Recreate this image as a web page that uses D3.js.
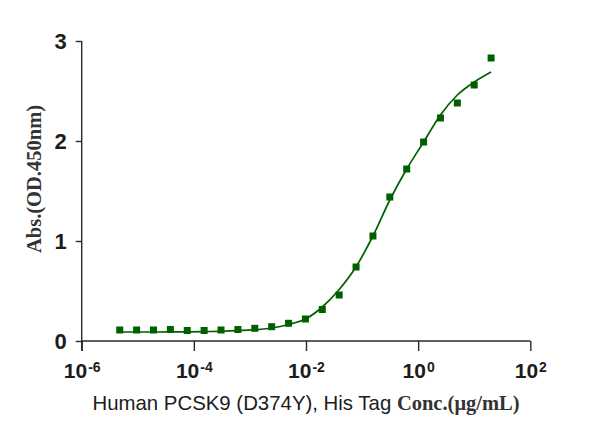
<!DOCTYPE html>
<html>
<head>
<meta charset="utf-8">
<script src="https://cdn.jsdelivr.net/npm/d3@7"></script>
<style>
  body { margin: 0; background: #fff; }
</style>
</head>
<body>
<div id="chart"></div>
<script>
// concentration (ug/mL), 2-fold dilution series
var conc = [20, 10, 5, 2.5, 1.25, 0.625, 0.3125, 0.15625, 0.078125, 0.0390625,
  0.01953125, 0.009765625, 0.0048828125, 0.00244140625, 0.001220703125,
  0.0006103515625, 0.00030517578125, 0.000152587890625, 0.0000762939453125,
  0.00003814697265625, 0.000019073486328125, 0.0000095367431640625, 0.00000476837158203125]

// measured absorbance at each concentration
var absorbance = [2.83, 2.56, 2.38, 2.23, 1.99, 1.72, 1.44, 1.05, 0.74, 0.46,
  0.315, 0.22, 0.177, 0.143, 0.127, 0.115, 0.11, 0.105, 0.105, 0.115,
  0.11, 0.11, 0.11]

// fitted curve, read at the same concentrations
var fitted = [2.69, 2.59, 2.46, 2.26, 1.99, 1.72, 1.41, 1.05, 0.743, 0.515,
  0.34, 0.22, 0.165, 0.13, 0.113, 0.103, 0.097, 0.094, 0.092, 0.091,
  0.09, 0.09, 0.09]

var xTicks = [1e-6, 1e-4, 1e-2, 1e0, 1e2]
var xTickExp = ["-6", "-4", "-2", "0", "2"]
var yTicks = [0, 1, 2, 3]

var width = 602,
  height = 435

var green = "#006000",
  axisColor = "#2a2a2a"

var svg = d3.select("#chart")
  .append("svg")
  .attr("width", width)
  .attr("height", height)

var x = d3.scaleLog().domain([1e-6, 1e2]).range([81.7, 530.3])
var y = d3.scaleLinear().domain([0, 3]).range([341, 41])

// y axis
var yAxis = svg.append("g")
  .attr("transform", "translate(" + x(1e-6) + ",0)")
  .call(d3.axisLeft(y).tickValues(yTicks).tickFormat(d3.format("d"))
    .tickSize(6).tickSizeOuter(0).tickPadding(9))

yAxis.select(".domain").remove()
yAxis.selectAll(".tick line").attr("stroke", axisColor).attr("stroke-width", 1.4)
yAxis.selectAll(".tick text")
  .attr("font-family", "'Liberation Sans', Arial, sans-serif")
  .attr("font-weight", "bold")
  .attr("font-size", 22)
  .attr("fill", "#1c1c1c")

svg.append("line")
  .attr("x1", x(1e-6)).attr("x2", x(1e-6))
  .attr("y1", y(3)).attr("y2", y(0) + 10)
  .attr("stroke", axisColor)
  .attr("stroke-width", 1.4)

// x axis
var xAxis = svg.append("g")
  .attr("transform", "translate(0," + y(0) + ")")
  .call(d3.axisBottom(x).tickValues(xTicks).tickSize(10).tickSizeOuter(0).tickFormat(""))

xAxis.select(".domain").remove()
xAxis.selectAll(".tick line").attr("stroke", axisColor).attr("stroke-width", 1.4)

svg.append("line")
  .attr("x1", x(1e-6)).attr("x2", x(1e2))
  .attr("y1", y(0)).attr("y2", y(0))
  .attr("stroke", axisColor)
  .attr("stroke-width", 1.4)

xAxis.selectAll(".tick text").remove()
xAxis.selectAll(".tick")
  .append("text")
  .attr("y", 37)
  .attr("text-anchor", "middle")
  .attr("fill", "#1c1c1c")
  .attr("font-family", "'Liberation Sans', Arial, sans-serif")
  .attr("font-weight", "bold")
  .each(function (d, i) {
    var t = d3.select(this)
    t.append("tspan").attr("font-size", 21).text("10")
    t.append("tspan").attr("font-size", 14).attr("dx", 1).attr("dy", -6).text(xTickExp[i])
  })

// fitted curve
var pts = conc.map(function (c, i) { return [c, fitted[i]] })
  .sort(function (a, b) { return a[0] - b[0] })

var line = d3.line()
  .x(function (d) { return x(d[0]) })
  .y(function (d) { return y(d[1]) })
  .curve(d3.curveMonotoneX)

svg.append("path")
  .datum(pts)
  .attr("d", line)
  .attr("fill", "none")
  .attr("stroke", green)
  .attr("stroke-width", 1.7)

// data points
var s = 7
svg.selectAll(".pt")
  .data(conc)
  .enter()
  .append("rect")
  .attr("class", "pt")
  .attr("x", function (d) { return x(d) - s / 2 })
  .attr("y", function (d, i) { return y(absorbance[i]) - s / 2 })
  .attr("width", s)
  .attr("height", s)
  .attr("fill", green)

// axis titles
svg.append("text")
  .attr("transform", "translate(40.5,179) rotate(-90)")
  .attr("text-anchor", "middle")
  .attr("font-family", "'Liberation Serif', 'Times New Roman', serif")
  .attr("font-weight", "bold")
  .attr("font-size", 20.5)
  .attr("fill", "#333")
  .text("Abs.(OD.450nm)")

var xTitle = svg.append("text")
  .attr("x", (x(1e-6) + x(1e2)) / 2)
  .attr("y", 410)
  .attr("text-anchor", "middle")
  .attr("fill", "#1c1c1c")

xTitle.append("tspan")
  .attr("font-family", "'Liberation Sans', Arial, sans-serif")
  .attr("font-size", 20.4)
  .text("Human PCSK9 (D374Y), His Tag ")

xTitle.append("tspan")
  .attr("font-family", "'Liberation Serif', 'Times New Roman', serif")
  .attr("font-weight", "bold")
  .attr("font-size", 20.5)
  .attr("fill", "#333")
  .text("Conc.(μg/mL)")
</script>
</body>
</html>
